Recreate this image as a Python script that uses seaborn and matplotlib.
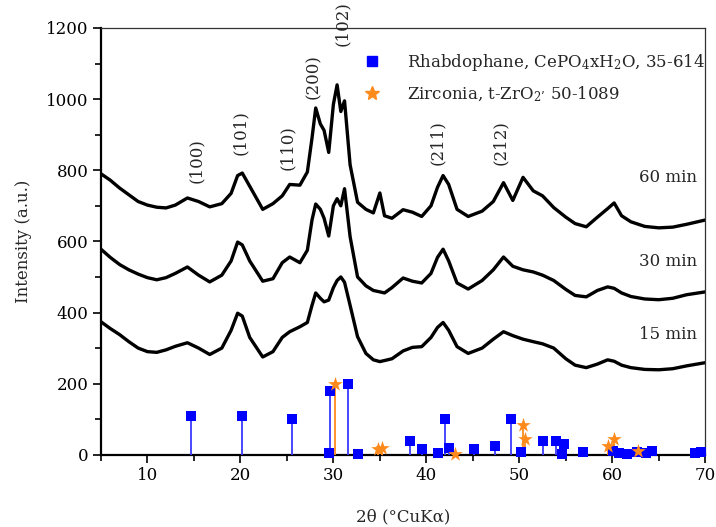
import numpy as np
import pandas as pd
import matplotlib
matplotlib.use("Agg")
import matplotlib.pyplot as plt
import seaborn as sns
from matplotlib.ticker import MultipleLocator
from matplotlib.lines import Line2D

# ---------------- data ----------------
two_theta = [5, 6, 7, 8, 9, 10, 11, 12, 13, 14.3, 15.5, 16.7, 18, 19, 19.7, 20.2, 21, 22.4,
             23.5, 24.5, 25.3, 26.4, 27.2, 27.7, 28.1, 28.6, 29.0, 29.5, 30.0, 30.4, 30.8,
             31.2, 31.8, 32.6, 33.5, 34.3, 35.0, 35.5, 36.3, 37.5, 38.5, 39.5, 40.5, 41.2,
             41.8, 42.4, 43.3, 44.5, 46, 47.2, 48.3, 49.3, 50.4, 51.5, 52.5, 53.7, 55, 56,
             57.2, 58.4, 59.5, 60.2, 61, 62, 63.5, 65, 66.5, 68, 70]

int_60 = [790, 772, 750, 731, 712, 702, 696, 694, 702, 722, 712, 697, 706, 735, 785, 792, 755, 690,
          706, 728, 760, 758, 795, 890, 975, 930, 912, 850, 985, 1040, 965,
          995, 815, 710, 690, 680, 736, 672, 665, 689, 682, 670, 700, 752,
          785, 760, 690, 670, 685, 712, 765, 715, 780, 742, 728, 695, 668, 650,
          641, 668, 692, 708, 672, 655, 642, 638, 640, 648, 660]

int_30 = [578, 555, 535, 520, 508, 498, 492, 498, 510, 528, 505, 486, 505, 545, 598, 590, 545, 488,
          495, 540, 556, 540, 575, 660, 705, 690, 665, 615, 700, 720, 700,
          748, 613, 500, 475, 462, 458, 455, 470, 497, 488, 483, 510, 555,
          578, 545, 483, 466, 490, 520, 556, 530, 520, 514, 505, 490, 465, 448,
          444, 462, 472, 468, 455, 445, 438, 436, 440, 450, 458]

int_15 = [374, 355, 338, 318, 300, 290, 288, 295, 305, 315, 300, 282, 300, 350, 398, 390, 330, 275,
          290, 330, 346, 360, 372, 420, 455, 440, 430, 435, 470, 490, 500,
          485, 420, 332, 285, 267, 262, 265, 270, 292, 302, 304, 330, 358,
          372, 350, 304, 285, 300, 325, 346, 335, 325, 318, 312, 300, 270, 252,
          245, 255, 267, 263, 252, 245, 240, 239, 242, 250, 259]

series_names = ["60 min", "30 min", "15 min"]

rhab_pos = [14.65, 20.2, 25.55, 29.5, 29.6, 31.6, 32.7, 38.25, 39.5, 41.2, 42.0, 42.4, 45.1,
            47.4, 49.1, 50.2, 52.5, 53.9, 54.6, 54.8, 56.8, 60.1, 60.7, 61.6, 62.7, 63.6,
            64.3, 68.9, 69.5]
rhab_int = [110, 110, 100, 5, 180, 200, 3, 40, 15, 5, 100, 20, 15,
            25, 100, 8, 40, 40, 3, 30, 8, 12, 5, 3, 8, 5,
            12, 5, 7]

zr_pos = [30.2, 34.8, 35.2, 43.1, 50.35, 50.6, 59.5, 60.15, 62.8]
zr_int = [200, 15, 20, 2, 85, 45, 25, 45, 12]

hkl_labels = ["(100)", "(101)", "(110)", "(200)", "(102)", "(211)", "(212)"]
hkl_pos = [15.3, 20.0, 25.1, 27.9, 31.0, 41.2, 48.0]
hkl_y = [765, 843, 800, 1000, 1150, 815, 815]

label_y = [779, 542, 337]

legend_labels = ["Rhabdophane, CePO$_{4}$xH$_{2}$O, 35-614",
                 "Zirconia, t-ZrO$_{2\u2019}$ 50-1089"]

# ---------------- style ----------------
sns.set_theme(style="ticks")
plt.rcParams["font.family"] = ["DejaVu Serif"]
plt.rcParams["mathtext.fontset"] = "custom"
plt.rcParams["mathtext.rm"] = "DejaVu Serif"
plt.rcParams["mathtext.it"] = "DejaVu Serif:italic"
plt.rcParams["mathtext.bf"] = "DejaVu Serif:bold"

FS = 12
fig = plt.figure(figsize=(7.16, 5.27), dpi=100)
ax = fig.add_axes([0.141, 0.137, 0.844, 0.810])

df = pd.DataFrame({
    "x": two_theta * 3,
    "y": int_60 + int_30 + int_15,
    "s": [series_names[0]] * len(two_theta) + [series_names[1]] * len(two_theta)
         + [series_names[2]] * len(two_theta),
})
sns.lineplot(data=df, x="x", y="y", units="s", estimator=None, color="black",
             linewidth=2.4, ax=ax, legend=False)

blue = "#0000ff"
orange = "#ff8a1c"
ax.vlines(rhab_pos, 0, rhab_int, color="#3a3aff", linewidth=1.3, zorder=3)
ax.vlines(zr_pos, 0, zr_int, color=orange, linewidth=1.3, zorder=3)
sns.scatterplot(x=rhab_pos, y=rhab_int, marker="s", s=55, color=blue, edgecolor=blue,
                linewidth=0, ax=ax, zorder=4, clip_on=False)
sns.scatterplot(x=zr_pos, y=zr_int, marker="*", s=120, color=orange, edgecolor=orange,
                linewidth=0, ax=ax, zorder=5, clip_on=False)

for lab, xp, yp in zip(hkl_labels, hkl_pos, hkl_y):
    ax.text(xp, yp, lab, rotation=90, ha="center", va="bottom", fontsize=FS)
for lab, yp in zip(series_names, label_y):
    ax.text(66.0, yp, lab, ha="center", va="center", fontsize=FS)

ax.set_xlim(5, 70)
ax.set_ylim(0, 1200)
ax.xaxis.set_major_locator(MultipleLocator(10))
ax.xaxis.set_minor_locator(MultipleLocator(5))
ax.yaxis.set_major_locator(MultipleLocator(200))
ax.yaxis.set_minor_locator(MultipleLocator(100))
ax.tick_params(axis="both", which="major", direction="out", length=6, width=1.2,
               labelsize=FS, color="black", labelcolor="black", pad=3)
ax.tick_params(axis="both", which="minor", direction="out", length=4, width=1.2, color="black")
for side in ["left", "bottom"]:
    ax.spines[side].set_linewidth(1.6)
    ax.spines[side].set_color("black")
for side in ["top", "right"]:
    ax.spines[side].set_linewidth(0.9)
    ax.spines[side].set_color("#333333")
ax.set_xlabel("2\u03b8 (\u00b0CuK\u03b1)", fontsize=FS, labelpad=17)
ax.set_ylabel("Intensity (a.u.)", fontsize=FS, labelpad=10)

handles = [Line2D([], [], linestyle="none", marker="s", markersize=7, color=blue),
           Line2D([], [], linestyle="none", marker="*", markersize=10, color=orange)]
ax.legend(handles, legend_labels, loc="upper left", bbox_to_anchor=(0.41, 0.96),
          frameon=False, fontsize=FS, handletextpad=1.1, labelspacing=0.7,
          borderaxespad=0)

fig.savefig("out.png", dpi=100)
